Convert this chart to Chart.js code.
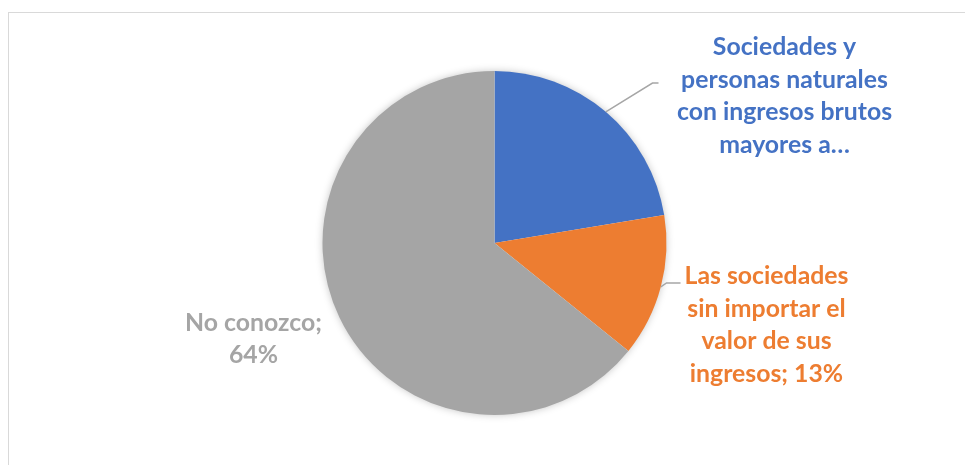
<!DOCTYPE html>
<html>
<head>
<meta charset="utf-8">
<script src="https://cdn.jsdelivr.net/npm/chart.js@4"></script>
<style>
  html, body { margin: 0; padding: 0; background: #fff; overflow: hidden; }
  #wrap { position: relative; width: 965px; height: 465px; }
  #frame {
    position: absolute; left: 8px; top: 12px; width: 980px; height: 480px;
    border: 1.5px solid #d9d9d9; box-sizing: border-box;
  }
  canvas { position: absolute; left: 0; top: 0; }
</style>
</head>
<body>
<div id="wrap">
  <div id="frame"></div>
  <canvas id="pie" width="965" height="465"></canvas>
</div>
<script>
/* ---------------- DATA ---------------- */
const categories = [
  "Sociedades y personas naturales con ingresos brutos mayores a…",
  "Las sociedades sin importar el valor de sus ingresos",
  "No conozco"
];
const values = [22.4, 13.4, 64.2];
const colors = ["#4472C4", "#ED7D31", "#A5A5A5"];

// wrapped label lines, as shown in the picture
const labelLines = [
  ["Sociedades y", "personas naturales", "con ingresos brutos", "mayores a…"],
  ["Las sociedades", "sin importar el", "valor de sus", "ingresos; {p}"],
  ["No conozco;", "{p}"]
];

/* ---------------- LABEL LAYOUT (px from pie centre) ---------------- */
const labelPos = [
  { dx: 290, dy: -147, lead: { ex: -132, ey: -13, tx: -126 } },
  { dx: 272, dy: 82,  lead: { ex: -100, ey: -42, tx: -86 } },
  { dx: -241, dy: 96, lead: null }
];
const LINE_H = 32.5;
const FONT = "bold 24.8px Lato";

const pieShadow = {
  id: "pieShadow",
  beforeDatasetsDraw(chart) {
    const arc = chart.getDatasetMeta(0).data[0];
    if (!arc) return;
    const ctx = chart.ctx;
    ctx.save();
    ctx.shadowColor = "rgba(0,0,0,0.28)";
    ctx.shadowBlur = 9;
    ctx.fillStyle = "#fff";
    ctx.beginPath();
    ctx.arc(arc.x, arc.y, arc.outerRadius - 1, 0, Math.PI * 2);
    ctx.fill();
    ctx.restore();
  }
};

const pieLabels = {
  id: "pieLabels",
  afterDatasetsDraw(chart) {
    const ctx = chart.ctx;
    const meta = chart.getDatasetMeta(0);
    const total = values.reduce((a, b) => a + b, 0);
    meta.data.forEach((arc, i) => {
      const cx = arc.x, cy = arc.y, r = arc.outerRadius;
      const pos = labelPos[i];
      const lx = cx + pos.dx, ly = cy + pos.dy;

      // leader line from the middle of the slice edge
      if (pos.lead) {
        const mid = (arc.startAngle + arc.endAngle) / 2;
        const sx = cx + Math.cos(mid) * r;
        const sy = cy + Math.sin(mid) * r;
        ctx.save();
        ctx.strokeStyle = "#A6A6A6";
        ctx.lineWidth = 1.5;
        ctx.beginPath();
        ctx.moveTo(sx, sy);
        ctx.lineTo(lx + pos.lead.ex, ly + pos.lead.ey);
        ctx.lineTo(lx + pos.lead.tx, ly + pos.lead.ey);
        ctx.stroke();
        ctx.restore();
      }

      const pct = Math.round(values[i] / total * 100) + "%";
      const lines = labelLines[i].map(t => t.replace("{p}", pct));
      ctx.save();
      ctx.font = FONT;
      ctx.fillStyle = colors[i];
      ctx.textAlign = "center";
      ctx.textBaseline = "middle";
      const top = ly - (lines.length - 1) * LINE_H / 2;
      lines.forEach((t, k) => ctx.fillText(t, lx, top + k * LINE_H));
      ctx.restore();
    });
  }
};

new Chart(document.getElementById("pie"), {
  type: "pie",
  data: {
    labels: categories,
    datasets: [{
      data: values,
      backgroundColor: colors,
      borderWidth: 0
    }]
  },
  options: {
    responsive: false,
    animation: false,
    layout: { padding: { top: 71, bottom: 50, left: 24, right: 0 } },
    plugins: {
      legend: { display: false },
      tooltip: { enabled: false }
    }
  },
  plugins: [pieShadow, pieLabels]
});
</script>
</body>
</html>
